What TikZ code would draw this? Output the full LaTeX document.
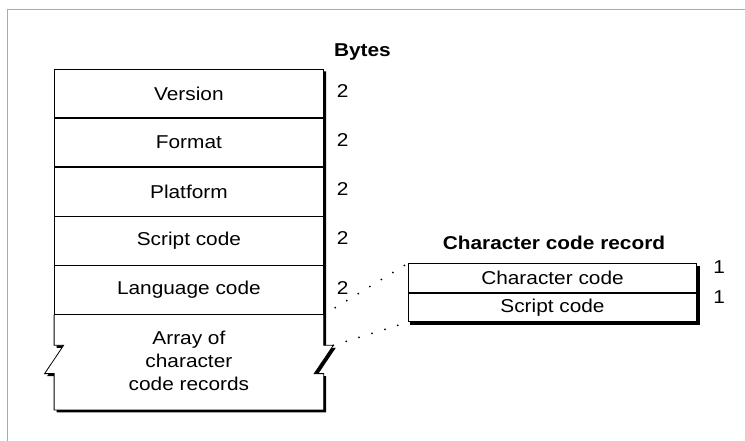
\documentclass[tikz,border=0pt]{standalone}
\usepackage{fontspec}
\setmainfont[FakeStretch=1.12]{Liberation Sans}
\usepackage{tikz}
\usetikzlibrary{positioning,calc,backgrounds}
\definecolor{frameGray}{RGB}{170,170,170}
\newcommand{\fieldfont}{\fontsize{18.6pt}{23pt}\selectfont}

\begin{document}
\begin{tikzpicture}[x=1pt, y=-1pt, line width=0.8pt,
    every node/.style={font=\fieldfont},
    fieldbox/.style={rectangle, draw, fill=white, minimum width=268.8pt, minimum height=48.34pt, inner sep=0pt},
    recbox/.style={rectangle, draw, fill=white, minimum width=288.4pt, minimum height=28.7pt, inner sep=0pt},
    sizelabel/.style={inner sep=0pt},
    dotline/.style={line width=2pt, line cap=round, dash pattern=on 0pt off 13.5pt}]
    \useasboundingbox (0,0) rectangle (745,441);
    \draw [frameGray, line width=1pt] (745,10) -- (7.6,10) -- (7.6,441);

    % table fields
    \node [fieldbox] (version) at (188.9,93.5) {Version};
    \node [fieldbox, below=0pt of version] (format) {Format};
    \node [fieldbox, below=0pt of format] (platform) {Platform};
    \node [fieldbox, below=0pt of platform] (script) {Script code};
    \node [fieldbox, below=0pt of script] (language) {Language code};
    \node [minimum width=268.8pt, minimum height=95.3pt, inner sep=0pt, align=center, below=0pt of language, yshift=2pt] (array) {Array of\\ character\\ code records};

    \node [anchor=base west, inner sep=0pt, font=\fieldfont\bfseries] (bytes) at (333.7,56.8) {Bytes};
    \node [sizelabel, right=12.7pt of version.east, yshift=2.5pt] (vsize) {2};
    \node [sizelabel, right=12.7pt of format.east, yshift=2.5pt] (fsize) {2};
    \node [sizelabel, right=12.7pt of platform.east, yshift=2.5pt] (psize) {2};
    \node [sizelabel, right=12.7pt of script.east, yshift=2.5pt] (ssize) {2};
    \node [sizelabel, right=12.7pt of language.east, yshift=2.5pt] (lsize) {2};

    % character code record
    \node [recbox] (charcode) at (552.5,278) {Character code};
    \node [recbox, below=0pt of charcode] (scriptrec) {Script code};
    \node [anchor=base, inner sep=0pt, font=\fieldfont\bfseries] (rectitle) at (554,250) {Character code record};
    \node [sizelabel, right=15.8pt of charcode.east, yshift=10.8pt] (csize) {1};
    \node [sizelabel, right=15.8pt of scriptrec.east, yshift=10.8pt] (rsize) {1};

    % broken bottom of the array
    \coordinate (arrTR) at (language.south east);
    \coordinate (arrTL) at (language.south west);
    \coordinate (arrBR) at ($(language.south east)+(0,95.3)$);
    \coordinate (arrBL) at ($(language.south west)+(0,95.3)$);
    \draw (arrTR) -- ++(0,30.7) -- ++(9.6,0) coordinate (jagR) -- ++(-19.1,28.3) -- ++(9.5,0)
        -- (arrBR) -- (arrBL) -- ++(0,-36.3) -- ++(-9.5,0) -- ++(19,-28.3) -- ++(-9.5,0) -- (arrTL);

    \begin{scope}[on background layer]
        \fill [black, transform canvas={shift={(2.5pt,-2.5pt)}}] (version.north west) -- (version.north east) -- (arrTR) -- ++(0,30.7) -- ++(9.6,0) -- ++(-19.1,28.3) -- ++(9.5,0)
            -- (arrBR) -- (arrBL) -- ++(0,-36.3) -- ++(-9.5,0) -- ++(19,-28.3) -- ++(-9.5,0) -- cycle;
        \fill [white] (arrTR) -- ++(0,30.7) -- ++(9.6,0) -- ++(-19.1,28.3) -- ++(9.5,0)
            -- (arrBR) -- (arrBL) -- ++(0,-36.3) -- ++(-9.5,0) -- ++(19,-28.3) -- ++(-9.5,0) -- (arrTL) -- cycle;
        \fill [black] ($(charcode.north west)+(2.5,2.5)$) rectangle ($(scriptrec.south east)+(2.5,2.5)$);
    \end{scope}

    \draw [dotline] (language.south east) -- (charcode.north west);
    \draw [dotline] (jagR) -- (scriptrec.south west);
\end{tikzpicture}
\end{document}
